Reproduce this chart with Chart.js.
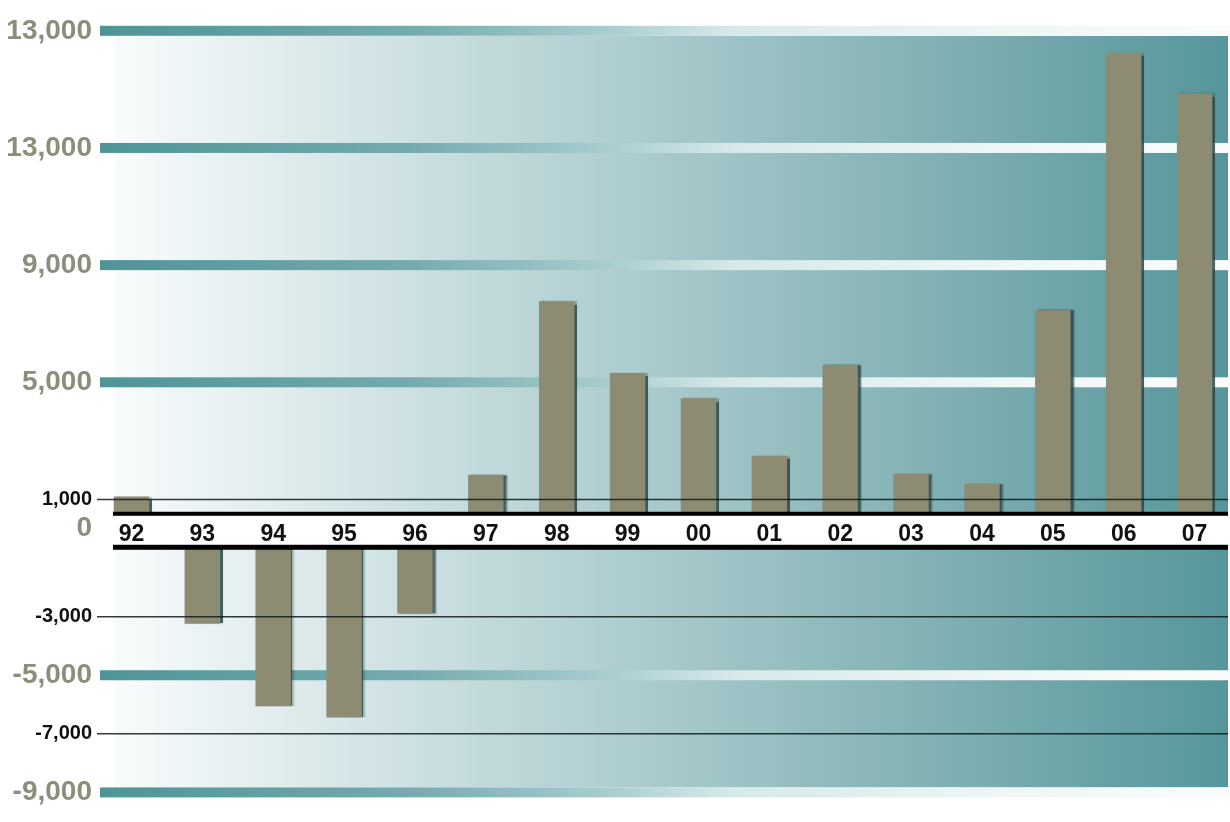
<!DOCTYPE html>
<html>
<head>
<meta charset="utf-8">
<script src="https://cdn.jsdelivr.net/npm/chart.js@4.4.1/dist/chart.umd.min.js"></script>
<style>
  html, body { margin: 0; padding: 0; background: #ffffff; }
  #wrap { width: 1230px; height: 822px; }
</style>
</head>
<body>
<div id="wrap"><canvas id="chart" width="1230" height="822"></canvas></div>
<script>
// Annual balance, 1992 – 2007
const years = ['92', '93', '94', '95', '96', '97', '98', '99', '00', '01', '02', '03', '04', '05', '06', '07'];
const balance = [1100, -3240, -6060, -6440, -2900, 1840, 7770, 5320, 4460, 2490, 5590, 1870, 1530, 7460, 16250, 14860];

// Value axis ticks and the text printed beside them
const tickValues = [17000, 13000, 9000, 5000, 1000, 0, -3000, -5000, -7000, -9000];
const tickLabels = ['13,000', '13,000', '9,000', '5,000', '1,000', '0', '-3,000', '-5,000', '-7,000', '-9,000'];
const bandTicks = [17000, 13000, 9000, 5000, -5000, -9000];
const thinTicks = [1000, -3000, -7000];

const FONT = '"Liberation Sans", Arial, sans-serif';
const isBig = c => !c.tick || bandTicks.includes(c.tick.value) || c.tick.value === 0;

// Gradient panel, wide teal rules, thin rules and the year strip around zero
const decor = {
  id: 'decor',
  beforeDatasetsDraw(chart) {
    const { ctx, chartArea: a, scales: { y } } = chart;
    ctx.save();
    const pl = a.left + 19, pr = a.right - 2;
    const pt = y.getPixelForValue(Math.max(...bandTicks)) + 5;
    const pb = y.getPixelForValue(Math.min(...bandTicks)) - 5;
    const panel = ctx.createLinearGradient(pl, 0, pr, 0);
    panel.addColorStop(0, '#f8fbfc');
    panel.addColorStop(1, '#56969a');
    ctx.fillStyle = panel;
    ctx.fillRect(pl, pt, pr - pl, pb - pt);

    const bl = a.left + 4, br = a.right;
    const rule = ctx.createLinearGradient(bl, 0, br, 0);
    rule.addColorStop(0, '#4e9497');
    rule.addColorStop(0.27, '#74aaad');
    rule.addColorStop(0.45, '#a9cdcf');
    rule.addColorStop(0.56, '#d6e9ea');
    rule.addColorStop(0.8, '#eef6f6');
    rule.addColorStop(1, '#fafcfc');
    ctx.fillStyle = rule;
    bandTicks.forEach(v => {
      const py = y.getPixelForValue(v);
      ctx.fillRect(bl, py - 5, br - bl, 10);
    });
    ctx.restore();

    // soft dark edge on the right of each bar
    ctx.save();
    ctx.shadowColor = 'rgba(38,70,74,0.85)';
    ctx.shadowOffsetX = 3;
    ctx.shadowOffsetY = 0;
    ctx.shadowBlur = 1.5;
  },
  afterDatasetsDraw(chart) {
    const { ctx, chartArea: a, scales: { x, y } } = chart;
    ctx.restore();
    ctx.save();
    ctx.strokeStyle = 'rgba(15,25,25,0.85)';
    ctx.lineWidth = 1.5;
    thinTicks.forEach(v => {
      const py = y.getPixelForValue(v);
      ctx.beginPath();
      ctx.moveTo(a.left + 1, py);
      ctx.lineTo(a.right - 2, py);
      ctx.stroke();
    });

    const z = y.getPixelForValue(0);
    const l = a.left + 17, r = a.right - 2;
    ctx.fillStyle = '#ffffff';
    ctx.fillRect(l, z - 14, r - l, 31);
    ctx.fillStyle = '#000000';
    ctx.fillRect(l, z - 17, r - l, 4);
    ctx.fillRect(l, z + 16, r - l, 5);

    ctx.font = 'bold 23px ' + FONT;
    ctx.textAlign = 'center';
    ctx.textBaseline = 'alphabetic';
    ctx.fillStyle = '#111111';
    years.forEach((t, i) => ctx.fillText(t, x.getPixelForValue(i), z + 12));
    ctx.restore();
  }
};

new Chart(document.getElementById('chart'), {
  type: 'bar',
  data: {
    labels: years,
    datasets: [{
      data: balance,
      backgroundColor: '#8e8b73',
      borderWidth: 0,
      barPercentage: 0.5,
      categoryPercentage: 1.0
    }]
  },
  options: {
    responsive: false,
    maintainAspectRatio: false,
    animation: false,
    events: [],
    layout: { padding: { top: 22, bottom: 19, left: 0, right: 0 } },
    plugins: { legend: { display: false }, tooltip: { enabled: false } },
    scales: {
      x: { display: false, offset: true },
      y: {
        min: -9300,
        max: 17300,
        afterBuildTicks: s => { s.ticks = tickValues.map(v => ({ value: v })); },
        afterFit: s => { s.width = 96; },
        grid: { display: false, drawTicks: false },
        border: { display: false },
        ticks: {
          autoSkip: false,
          padding: 4,
          callback: v => tickLabels[tickValues.indexOf(v)],
          color: c => isBig(c) ? '#8d8d7c' : '#111111',
          font: c => isBig(c)
            ? { family: FONT, size: 28, weight: 'bold' }
            : { family: FONT, size: 20, weight: 'bold' }
        }
      }
    }
  },
  plugins: [decor]
});
</script>
</body>
</html>
